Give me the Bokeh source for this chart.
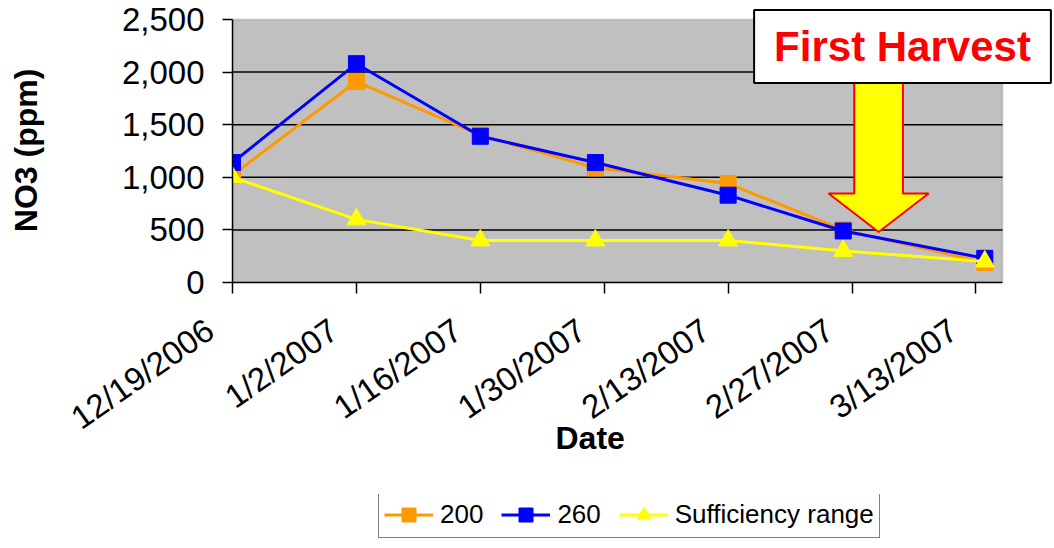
import math
import pandas as pd
from bokeh.plotting import figure
from bokeh.layouts import column
from bokeh.models import (Range1d, FixedTicker, NumeralTickFormatter, Legend,
                          LegendItem, Label, ColumnDataSource, BoxAnnotation)
from bokeh.embed import file_html
from bokeh.resources import INLINE

# ---- data -------------------------------------------------------------
dates = ["2006-12-19", "2007-01-02", "2007-01-16", "2007-01-29",
         "2007-02-13", "2007-02-26", "2007-03-14"]
no3_200 = [1020, 1910, 1400, 1090, 940, 500, 190]
no3_260 = [1140, 2080, 1390, 1140, 830, 490, 230]
sufficiency = [1000, 600, 400, 400, 400, 300, 200]

tick_dates = ["2006-12-19", "2007-01-02", "2007-01-16", "2007-01-30",
              "2007-02-13", "2007-02-27", "2007-03-13"]
tick_labels = ["12/19/2006", "1/2/2007", "1/16/2007", "1/30/2007",
               "2/13/2007", "2/27/2007", "3/13/2007"]
y_ticks = [0, 500, 1000, 1500, 2000, 2500]
axis_end_date = "2007-03-16"
series_names = ["200", "260", "Sufficiency range"]
colors = ["#FF9900", "#0000FF", "#FFFF00"]
harvest_arrow_date = "2007-03-02"

FONT = "Liberation Sans"
NBSP = "\u00a0"

# ---- geometry (pixels) -------------------------------------------------
W, H = 1054, 548
AREA_L, AREA_R, AREA_T, AREA_B = 232, 1002, 19, 282   # grey plot area
MAIN_H = 494                                          # chart part, legend strip below
LEGEND_LEFT = 378

origin = pd.Timestamp(dates[0])
def day(d):
    return (pd.Timestamp(d) - origin).days

x = [day(d) for d in dates]
tick_x = [day(d) for d in tick_dates]
x_end = day(axis_end_date)
y_top = y_ticks[-1]

fx_end = x_end * (W - AREA_L) / (AREA_R - AREA_L)
fy_end = y_top * AREA_B / (AREA_B - AREA_T)

src = ColumnDataSource(dict(x=x, a=no3_200, b=no3_260, s=sufficiency))

p = figure(frame_width=W - AREA_L, frame_height=AREA_B,
           output_backend="svg", toolbar_location=None,
           x_range=Range1d(0, fx_end), y_range=Range1d(0, fy_end),
           min_border_left=AREA_L, min_border_right=0, min_border_top=0,
           min_border_bottom=MAIN_H - AREA_B)
p.background_fill_color = "white"
p.border_fill_color = "white"
p.outline_line_color = None
p.xgrid.visible = False
p.ygrid.visible = False

p.add_layout(BoxAnnotation(left=0, right=x_end, bottom=0, top=y_top,
                           fill_color="#C0C0C0", fill_alpha=1,
                           line_color="#808080", line_width=2, level="underlay"))
grid_y = y_ticks[1:-1]
p.segment(x0=[0] * len(grid_y), x1=[x_end] * len(grid_y), y0=grid_y, y1=grid_y,
          line_color="black", line_width=1.5)

ya = p.yaxis[0]
ya.bounds = (0, y_top)
ya.ticker = FixedTicker(ticks=y_ticks)
ya.formatter = NumeralTickFormatter(format="0,0")
ya.major_label_text_font = FONT
ya.major_label_text_font_size = "33px"
ya.major_label_text_color = "black"
ya.major_tick_out = 10
ya.major_tick_in = 0
ya.minor_tick_out = 0
ya.minor_tick_in = 0
ya.axis_line_width = 1.5
ya.major_tick_line_width = 1.5
ya.major_label_standoff = 18
ya.axis_label = "NO3 (ppm)" + NBSP * 2
ya.axis_label_text_font = FONT
ya.axis_label_text_font_style = "bold"
ya.axis_label_text_font_size = "32px"
ya.axis_label_text_color = "black"
ya.axis_label_standoff = 75

xa = p.xaxis[0]
xa.bounds = (0, x_end)
xa.ticker = FixedTicker(ticks=tick_x)
xa.major_label_overrides = {t: lab + NBSP * 3 for t, lab in zip(tick_x, tick_labels)}
xa.major_label_orientation = math.radians(35)
xa.major_label_text_font = FONT
xa.major_label_text_font_size = "33px"
xa.major_label_text_color = "black"
xa.major_tick_out = 11
xa.major_tick_in = 0
xa.minor_tick_out = 0
xa.minor_tick_in = 0
xa.axis_line_width = 1.5
xa.major_tick_line_width = 1.5
xa.major_label_standoff = 17
xa.axis_label = "Date" + NBSP * 12
xa.axis_label_text_font = FONT
xa.axis_label_text_font_style = "bold"
xa.axis_label_text_font_size = "32px"
xa.axis_label_text_color = "black"
xa.axis_label_standoff = -34

def add_series(fig, visible=True):
    out = []
    for col, color, marker, size in (("a", colors[0], "square", 16),
                                     ("b", colors[1], "square", 16),
                                     ("s", colors[2], "triangle", 19)):
        ln = fig.line("x", col, source=src, line_color=color, line_width=3,
                      visible=visible)
        sc = fig.scatter("x", col, source=src, marker=marker, size=size,
                         fill_color=color, line_color=color, visible=visible)
        out.append((ln, sc))
    return out

add_series(p)

ax0 = day(harvest_arrow_date)
shaft_hw, head_hw = 2.75, 5.65
tip_y, head_top, shaft_top = 480, 846, 2000
p.patch([ax0 - shaft_hw, ax0 + shaft_hw, ax0 + shaft_hw, ax0 + head_hw, ax0,
         ax0 - head_hw, ax0 - shaft_hw],
        [shaft_top, shaft_top, head_top, head_top, tip_y, head_top, head_top],
        fill_color="#FFFF00", line_color="#FF0000", line_width=2)

harvest = Label(x=ax0 + 2.7, y=2243, text="First Harvest",
                text_align="center", text_baseline="middle",
                text_font=FONT, text_font_style="bold", text_font_size="42px",
                text_color="#FF0000", background_fill_color="white",
                border_line_color="black", border_line_width=2,
                padding=dict(left=20, right=20, top=13, bottom=13))
p.add_layout(harvest)

# ---- legend strip (same series, hidden, only their legend shown) -------
pl = figure(width=W, height=H - MAIN_H, output_backend="svg",
            toolbar_location=None, x_axis_location=None, y_axis_location=None,
            x_range=Range1d(0, fx_end), y_range=Range1d(0, fy_end),
            min_border_left=0, min_border_right=0, min_border_top=0,
            min_border_bottom=0)
pl.outline_line_color = None
pl.xgrid.visible = False
pl.ygrid.visible = False
pl.background_fill_color = "white"
pl.border_fill_color = "white"
hidden = add_series(pl, visible=False)

# the column aligns this strip's frame with the chart frame (left = AREA_L)
legend = Legend(items=[LegendItem(label=name, renderers=list(rs))
                       for name, rs in zip(series_names, hidden)],
                orientation="horizontal", location=(LEGEND_LEFT - AREA_L, 10))
legend.label_text_font = FONT
legend.label_text_font_size = "26px"
legend.label_text_color = "black"
legend.border_line_color = "black"
legend.border_line_width = 1.5
legend.background_fill_color = "white"
legend.background_fill_alpha = 1
legend.glyph_width = 49
legend.glyph_height = 35
legend.label_standoff = 7
legend.spacing = 18
legend.padding = 5
legend.margin = 0
legend.click_policy = "none"
pl.add_layout(legend, "center")

layout = column(p, pl, spacing=0)
open("out.html", "w").write(file_html(layout, INLINE))
